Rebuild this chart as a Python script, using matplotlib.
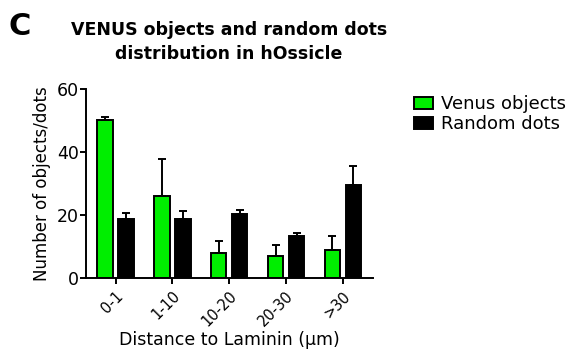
import numpy as np
import matplotlib.pyplot as plt

plt.rcParams["font.family"] = ["DejaVu Sans"]

categories = ["0-1", "1-10", "10-20", "20-30", ">30"]
venus = [50.2, 26.1, 7.9, 6.9, 9.0]
venus_err = [0.8, 11.7, 3.8, 3.7, 4.5]
random_dots = [18.6, 18.6, 20.3, 13.5, 29.4]
random_err = [1.9, 2.6, 1.4, 0.8, 6.3]

fig = plt.figure(figsize=(5.72, 3.52), dpi=100)
ax = fig.add_axes([0.150, 0.210, 0.502, 0.537])

x = np.arange(len(categories))
w = 0.27
off = 0.185

ax.bar(x - off, venus, w, color="#00ee00", edgecolor="black", linewidth=1.4,
       yerr=[np.zeros(len(venus)), venus_err], capsize=3,
       error_kw=dict(elinewidth=1.4, capthick=1.4, ecolor="black"),
       label="Venus objects", zorder=2)
ax.bar(x + off, random_dots, w, color="black", edgecolor="black", linewidth=1.4,
       yerr=[np.zeros(len(random_dots)), random_err], capsize=3,
       error_kw=dict(elinewidth=1.4, capthick=1.4, ecolor="black"),
       label="Random dots", zorder=2)

ax.set_xlim(-0.524, 4.53)
ax.set_ylim(0, 60)
ax.set_yticks([0, 20, 40, 60])
ax.set_xticks(x)
ax.set_xticklabels(categories, rotation=45, ha="right", rotation_mode="anchor", fontsize=10.5)
ax.tick_params(axis="y", labelsize=12.5, width=1.4, length=4, pad=1)
ax.tick_params(axis="x", width=1.4, length=4)

for s in ["top", "right"]:
    ax.spines[s].set_visible(False)
for s in ["left", "bottom"]:
    ax.spines[s].set_linewidth(1.4)

ax.set_ylabel("Number of objects/dots", fontsize=12, labelpad=4)
ax.set_xlabel("Distance to Laminin (\u03bcm)", fontsize=12.5, labelpad=1)

fig.text(0.40, 0.88, "VENUS objects and random dots\ndistribution in hOssicle",
         ha="center", va="center", fontsize=12.5, fontweight="bold", linespacing=1.4)
fig.text(0.015, 0.925, "C", fontsize=22, fontweight="bold", va="center")

fig.legend(loc="upper left", bbox_to_anchor=(0.696, 0.775), frameon=False,
           fontsize=13, handlelength=1.05, handleheight=0.7, labelspacing=0.1,
           handletextpad=0.45)

fig.savefig("out.png", dpi=100)
